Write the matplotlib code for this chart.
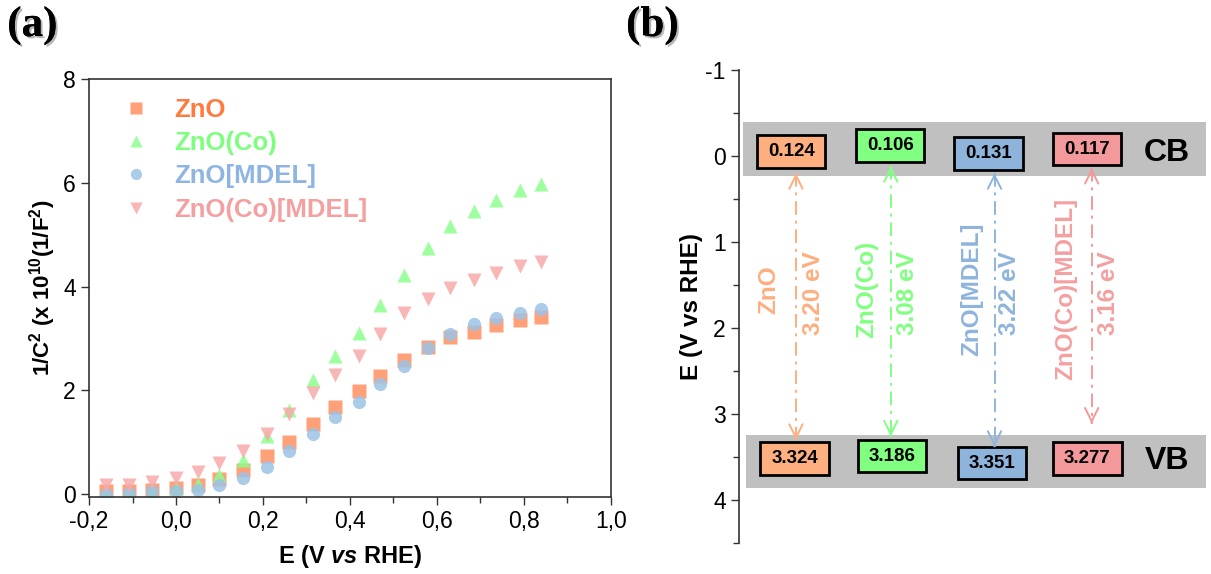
#!/usr/bin/env python3
"""Mott-Schottky plot and band-edge diagram for ZnO samples."""

import matplotlib
matplotlib.use("Agg")
import matplotlib.pyplot as plt
from matplotlib import patheffects
from matplotlib.patches import Rectangle
from matplotlib.ticker import MultipleLocator, FuncFormatter

# ---- data: panel (a) -------------------------------------------------------
E_RHE = [-0.16, -0.107, -0.055, 0.0, 0.05, 0.10, 0.155, 0.21, 0.26, 0.315,
         0.365, 0.42, 0.47, 0.525, 0.58, 0.63, 0.685, 0.735, 0.79, 0.84]
ZNO = [0.05, 0.05, 0.08, 0.12, 0.18, 0.28, 0.47, 0.73, 1.01, 1.35,
       1.67, 1.98, 2.27, 2.59, 2.83, 3.02, 3.13, 3.26, 3.35, 3.42]
ZNO_CO = [0.02, 0.04, 0.06, 0.12, 0.19, 0.37, 0.66, 1.11, 1.62, 2.20,
          2.66, 3.10, 3.65, 4.22, 4.74, 5.16, 5.46, 5.67, 5.86, 5.97]
ZNO_MDEL = [0.0, 0.02, 0.05, 0.05, 0.08, 0.17, 0.30, 0.52, 0.82, 1.16,
            1.48, 1.78, 2.12, 2.47, 2.81, 3.08, 3.28, 3.40, 3.50, 3.56]
ZNO_CO_MDEL = [0.17, 0.18, 0.24, 0.30, 0.42, 0.60, 0.83, 1.16, 1.54, 1.95,
               2.29, 2.67, 3.08, 3.49, 3.76, 3.97, 4.13, 4.26, 4.39, 4.47]

# ---- data: panel (b) -------------------------------------------------------
SAMPLES = ["ZnO", "ZnO(Co)", "ZnO[MDEL]", "ZnO(Co)[MDEL]"]
CB_EDGE = [0.124, 0.106, 0.131, 0.117]
VB_EDGE = [3.324, 3.186, 3.351, 3.277]
GAP_EV = [3.20, 3.08, 3.22, 3.16]

# layout of the schematic (x in 0..10 panel units, y in V)
COL_BOX_CB = [1.12, 3.24, 5.34, 7.45]
COL_BOX_VB = [1.19, 3.28, 5.41, 7.46]
Y_BOX_CB = [-0.05, -0.12, -0.03, -0.08]
Y_BOX_VB = [3.52, 3.49, 3.57, 3.52]
COL_ARROW = [1.22, 3.25, 5.47, 7.55]
ARROW_TOP = [0.20, 0.12, 0.20, 0.14]
ARROW_BOT = [3.30, 3.26, 3.38, 3.11]
COL_NAME = [0.64, 2.73, 4.99, 7.00]
COL_GAP = [1.60, 3.61, 5.79, 7.91]

MARKER_COLORS = ["#FF9060", "#8CFF8C", "#9DC3E6", "#F9A9A9"]
TEXT_COLORS = ["#FF7A3C", "#7CFF7C", "#8EB4E3", "#F4A0A0"]
BOX_COLORS = ["#FDAF80", "#80FF80", "#8FB4DC", "#F4999B"]
LABEL_COLORS = ["#FDAF80", "#80FF80", "#8FB4DC", "#F4A0A0"]
MARKERS = ["s", "^", "o", "v"]

plt.rcParams["font.family"] = ["Liberation Sans", "DejaVu Sans"]
plt.rcParams["axes.unicode_minus"] = False
plt.rcParams["mathtext.fontset"] = "custom"
plt.rcParams["mathtext.rm"] = "Liberation Sans"
plt.rcParams["mathtext.bf"] = "Liberation Sans:bold"
plt.rcParams["mathtext.it"] = "Liberation Sans:bold:italic"

AX_COLOR = "#333333"

fig = plt.figure(figsize=(12.11, 5.74), dpi=100)

# ---------------------------------------------------------------- panel (a)
ax = fig.add_axes([0.0735, 0.134, 0.431, 0.728])
series = [ZNO, ZNO_CO, ZNO_MDEL, ZNO_CO_MDEL]
for y, lab, mk, col in zip(series, SAMPLES, MARKERS, MARKER_COLORS):
    ax.plot(E_RHE, y, ls="none", marker=mk, ms=10.5 if mk in "^v" else 9.5,
            color=col, mec="none", alpha=0.85, label=lab)

ax.set_xlim(-0.2, 1.0)
ax.set_ylim(-0.06, 8.0)
ax.xaxis.set_major_locator(MultipleLocator(0.2))
ax.xaxis.set_minor_locator(MultipleLocator(0.1))
ax.yaxis.set_major_locator(MultipleLocator(2))
ax.xaxis.set_major_formatter(FuncFormatter(lambda v, p: f"{v:.1f}".replace(".", ",")))
ax.tick_params(axis="both", which="major", direction="out", length=6,
               width=1.0, color=AX_COLOR, labelsize=16.5, top=False, right=False)
ax.tick_params(axis="x", which="minor", direction="out", length=4,
               width=1.0, color=AX_COLOR)
for sp in ax.spines.values():
    sp.set_color(AX_COLOR)
    sp.set_linewidth(1.2)
ax.set_xlabel(r"E (V $\it{vs}$ RHE)", fontsize=17, fontweight="bold", labelpad=7)
ax.set_ylabel(r"1/C$^\mathbf{2}$ (x 10$^\mathbf{10}$(1/F$^\mathbf{2}$)",
              fontsize=16, fontweight="bold", labelpad=4)

leg = ax.legend(loc="upper left", frameon=False,
                prop={"size": 18.5, "weight": "bold"}, markerscale=0.85,
                labelcolor=TEXT_COLORS, handlelength=1.2, handletextpad=0.9,
                labelspacing=0.36, borderaxespad=0.0,
                bbox_to_anchor=(0.04, 0.98))
for h in leg.legend_handles:
    h.set_alpha(0.85)

# ---------------------------------------------------------------- panel (b)
bx = fig.add_axes([0.6102, 0.054, 0.3858, 0.824])
bx.set_xlim(0, 10)
bx.set_ylim(4.5, -1)
for s in ("top", "right", "bottom"):
    bx.spines[s].set_visible(False)
bx.spines["left"].set_color(AX_COLOR)
bx.spines["left"].set_linewidth(1.2)
bx.set_xticks([])
bx.yaxis.set_major_locator(MultipleLocator(1))
bx.yaxis.set_minor_locator(MultipleLocator(0.5))
bx.tick_params(axis="y", which="major", direction="out", length=6, width=1.0,
               color=AX_COLOR, labelsize=16.5)
bx.tick_params(axis="y", which="minor", direction="out", length=4, width=1.0,
               color=AX_COLOR)
bx.set_ylabel("E (V vs RHE)", fontsize=17.5, fontweight="bold", labelpad=2)

# conduction / valence band strips
bx.add_patch(Rectangle((0.08, -0.39), 9.92, 0.62, facecolor="#C0C0C0",
                       edgecolor="none", zorder=1))
bx.add_patch(Rectangle((0.16, 3.24), 9.84, 0.62, facecolor="#C0C0C0",
                       edgecolor="none", zorder=1))
bx.text(9.16, -0.04, "CB", fontsize=23, fontweight="bold", ha="center",
        va="center", zorder=3)
bx.text(9.16, 3.55, "VB", fontsize=23, fontweight="bold", ha="center",
        va="center", zorder=3)

BOX_W = 1.46
BOX_H = 0.38
for i in range(len(SAMPLES)):
    for xc, yc, val in ((COL_BOX_CB[i], Y_BOX_CB[i], CB_EDGE[i]),
                        (COL_BOX_VB[i], Y_BOX_VB[i], VB_EDGE[i])):
        bx.add_patch(Rectangle((xc - BOX_W / 2, yc - BOX_H / 2), BOX_W, BOX_H,
                               facecolor=BOX_COLORS[i], edgecolor="black",
                               linewidth=2.0, zorder=2))
        bx.text(xc, yc, f"{val:.3f}", fontsize=13.5, fontweight="bold",
                ha="center", va="center", zorder=3)

    xa = COL_ARROW[i]
    col = BOX_COLORS[i]
    bx.plot([xa, xa], [ARROW_TOP[i], ARROW_BOT[i]], color=col, lw=1.4,
            ls=(0, (7, 3, 1.5, 3)), zorder=2)
    for tip, tail in ((ARROW_TOP[i], ARROW_TOP[i] + 0.01),
                      (ARROW_BOT[i], ARROW_BOT[i] - 0.01)):
        bx.annotate("", xy=(xa, tip), xytext=(xa, tail),
                    arrowprops=dict(arrowstyle="->", color=col, lw=1.4,
                                    mutation_scale=24, shrinkA=0, shrinkB=0),
                    zorder=2)

    bx.text(COL_NAME[i], 1.55, SAMPLES[i], rotation=90, fontsize=17.5,
            fontweight="bold", color=LABEL_COLORS[i], ha="center", va="center")
    bx.text(COL_GAP[i], 1.59, f"{GAP_EV[i]:.2f} eV", rotation=90, fontsize=17.5,
            fontweight="bold", color=LABEL_COLORS[i], ha="center", va="center")

# panel tags
shadow = [patheffects.withSimplePatchShadow(offset=(1.5, -1.5),
                                            shadow_rgbFace="#888888", alpha=0.6),
          patheffects.Normal()]
for xt, tag in ((0.006, "(a)"), (0.517, "(b)")):
    fig.text(xt, 0.955, tag, fontsize=31, fontweight="bold",
             family=["Liberation Serif", "DejaVu Serif"], ha="left",
             va="center", path_effects=shadow)

fig.savefig("out.png", dpi=100)
